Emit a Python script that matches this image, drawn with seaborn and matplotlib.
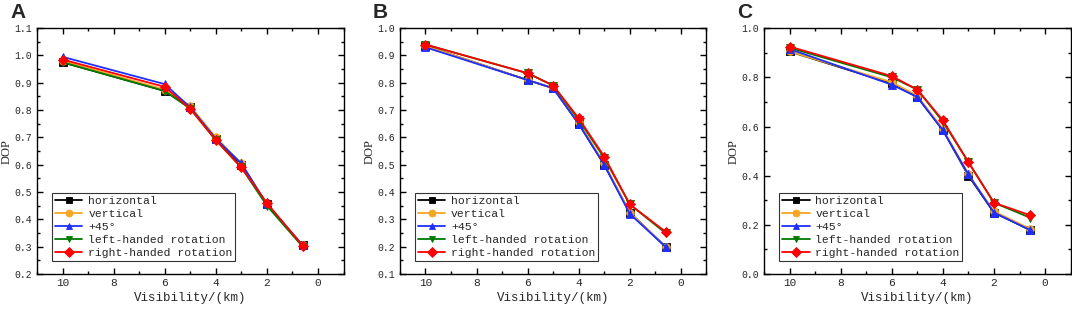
import pandas as pd
import matplotlib
matplotlib.use('Agg')
import matplotlib.pyplot as plt
from matplotlib.ticker import MultipleLocator, FormatStrFormatter
import seaborn as sns

sns.set_style('ticks')
plt.rcParams['font.family'] = ['Liberation Mono', 'DejaVu Sans Mono']

# ── Data ─────────────────────────────────────────────────────────────────
VIS = [10, 6, 5, 4, 3, 2, 0.6]
SERIES = ['horizontal', 'vertical', '+45°', 'left-handed rotation', 'right-handed rotation']
COLORS = ['#000000', '#F5A623', '#1F2EFF', '#007A00', '#FF0000']
MARKERS = ['s', 'o', '^', 'v', 'D']

A_hor = [0.975, 0.870, 0.810, 0.695, 0.600, 0.455, 0.305]
A_ver = [0.980, 0.875, 0.815, 0.700, 0.605, 0.455, 0.305]
A_p45 = [0.995, 0.895, 0.810, 0.695, 0.605, 0.455, 0.305]
A_lhr = [0.975, 0.870, 0.805, 0.690, 0.590, 0.450, 0.300]
A_rhr = [0.985, 0.885, 0.805, 0.690, 0.590, 0.460, 0.303]

B_hor = [0.935, 0.810, 0.780, 0.650, 0.500, 0.325, 0.200]
B_ver = [0.935, 0.810, 0.780, 0.655, 0.505, 0.325, 0.200]
B_p45 = [0.930, 0.810, 0.780, 0.650, 0.500, 0.320, 0.200]
B_lhr = [0.940, 0.835, 0.790, 0.665, 0.525, 0.355, 0.250]
B_rhr = [0.940, 0.835, 0.790, 0.670, 0.530, 0.355, 0.255]

C_hor = [0.905, 0.775, 0.720, 0.585, 0.400, 0.250, 0.180]
C_ver = [0.905, 0.780, 0.725, 0.590, 0.405, 0.255, 0.185]
C_p45 = [0.915, 0.770, 0.720, 0.585, 0.405, 0.250, 0.180]
C_lhr = [0.920, 0.800, 0.750, 0.620, 0.455, 0.290, 0.230]
C_rhr = [0.925, 0.805, 0.750, 0.625, 0.455, 0.290, 0.240]

PANELS = [
    ('A', [A_hor, A_ver, A_p45, A_lhr, A_rhr], (0.2, 1.1), 0.1),
    ('B', [B_hor, B_ver, B_p45, B_lhr, B_rhr], (0.1, 1.0), 0.1),
    ('C', [C_hor, C_ver, C_p45, C_lhr, C_rhr], (0.0, 1.0), 0.2),
]
LEFTS = [0.0345, 0.373, 0.7127]


def to_long(values):
    rows = []
    for name, ys in zip(SERIES, values):
        for x, y in zip(VIS, ys):
            rows.append({'vis': x, 'dop': y, 'pol': name})
    return pd.DataFrame(rows)


fig = plt.figure(figsize=(10.72, 3.09), dpi=100)

for (letter, values, ylim, ystep), left in zip(PANELS, LEFTS):
    ax = fig.add_axes([left, 0.113, 0.286, 0.796])
    df = to_long(values)
    sns.lineplot(data=df, x='vis', y='dop', hue='pol', style='pol',
                 hue_order=SERIES, style_order=SERIES,
                 palette=dict(zip(SERIES, COLORS)),
                 markers=dict(zip(SERIES, MARKERS)), dashes=False,
                 linewidth=1.3, sort=False, ax=ax)
    # markers drawn with their own colour as edge, like the original
    for line, c in zip(ax.lines, COLORS):
        line.set_markersize(5.5)
        line.set_markeredgecolor(c)
        line.set_markeredgewidth(0.6)
    ax.set_xlim(11, -1)
    ax.set_ylim(*ylim)
    ax.xaxis.set_major_locator(MultipleLocator(2))
    ax.xaxis.set_minor_locator(MultipleLocator(1))
    ax.yaxis.set_major_locator(MultipleLocator(ystep))
    ax.yaxis.set_minor_locator(MultipleLocator(ystep / 2))
    ax.yaxis.set_major_formatter(FormatStrFormatter('%.1f'))
    ax.tick_params(which='both', direction='in', top=True, right=True,
                   labelsize=8, color='black', width=1, pad=3)
    ax.tick_params(axis='y', labelsize=7, pad=3.5)
    ax.tick_params(which='major', length=4)
    ax.tick_params(which='minor', length=2.5)
    for sp in ax.spines.values():
        sp.set_color('black')
        sp.set_linewidth(1)
    ax.set_xlabel('Visibility/(km)', fontsize=9, labelpad=3)
    ax.set_ylabel('DOP', fontsize=9,
                  family=['Liberation Serif', 'DejaVu Serif'])
    ax.yaxis.set_label_coords(-0.08, 0.5)
    leg = ax.legend(loc='lower left', bbox_to_anchor=(0.05, 0.055),
                    fontsize=8.2, frameon=True, fancybox=False,
                    handlelength=2.4, handletextpad=0.5, borderpad=0.25,
                    labelspacing=0.25, borderaxespad=0)
    leg.get_frame().set_edgecolor('black')
    leg.get_frame().set_linewidth(0.8)
    for h, c in zip(leg.legend_handles, COLORS):
        h.set_markersize(5)
        h.set_markeredgecolor(c)
        h.set_markeredgewidth(0.6)
    fig.text(left - 0.025, 0.99, letter, fontsize=15, fontweight='bold',
             va='top', ha='left', family=['Liberation Sans', 'DejaVu Sans'])

fig.savefig('out.png', dpi=100, facecolor='white')
